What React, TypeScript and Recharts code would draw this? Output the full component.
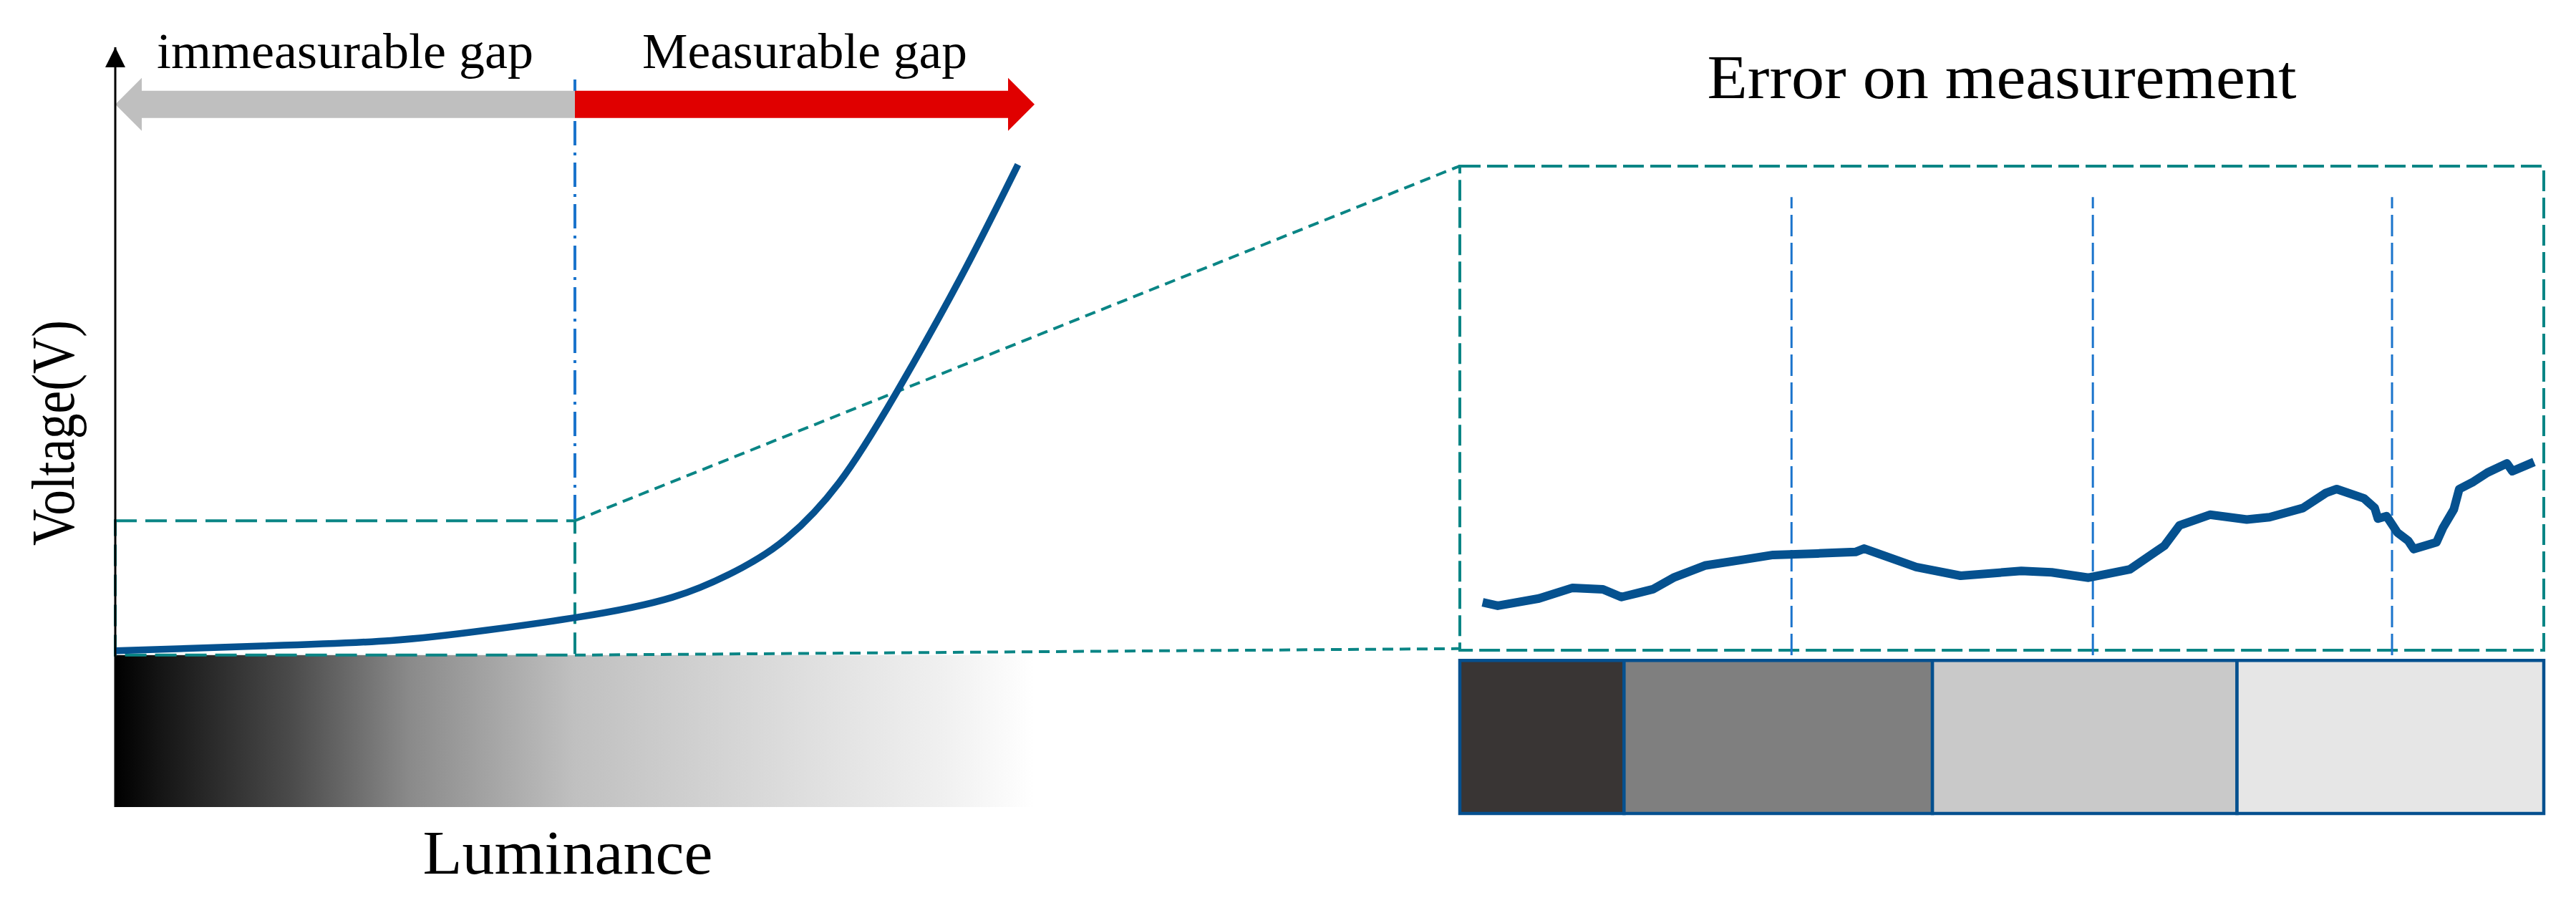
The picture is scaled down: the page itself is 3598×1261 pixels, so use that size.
import React from 'react';
import { ComposedChart, Line, XAxis, YAxis, ReferenceArea, ReferenceLine, ReferenceDot } from 'recharts';

const W = 3582;
const H = 1245;
const SERIF = '"Liberation Serif", "Times New Roman", serif';
const TEAL = '#0a8585';
const BLUE_DASH = '#1b74cc';
const CURVE = '#05518f';
const BORDER = '#05508f';

// ---------- Left panel: voltage vs luminance ----------
const lumPos = [0, 16.1, 30, 40.4, 50.2, 60.6, 68.2, 73.1, 78.7, 84.9, 92.0, 98.2];
const voltVal = [0.7, 1.5, 2.4, 4.1, 6.2, 9.5, 14.4, 19.3, 28.3, 43.0, 62.2, 80.7];
const lumDomain = [0, 100];
const voltDomain = [-25, 100];
const splitLum = 50;
const zoomTopVolt = 22.1;
const arrowVolt = 90.6;
const splitLineTopVolt = 94.7;
const connectLum = 146.26;
const connectTopVolt = 80.47;
const connectBottomVolt = 1.06;
const gapLabels = ['immeasurable gap', 'Measurable gap'];

// ---------- Right panel: error on measurement ----------
const errPos = [2.1, 3.5, 7.3, 10.4, 13.2, 14.9, 17.8, 19.8, 22.6, 26.1, 28.9, 33.0, 36.5, 37.3, 42.1, 46.2, 51.8, 54.6, 58.0, 61.8, 65.0, 66.4, 69.2, 72.6, 74.7, 77.8, 79.9, 80.9, 83.4, 84.4, 84.7, 85.5, 86.5, 87.5, 88.0, 90.1, 90.7, 91.7, 92.2, 93.5, 94.8, 96.6, 97.1, 99.1];
const errVal = [9.9, 9.2, 10.7, 12.9, 12.6, 11.0, 12.6, 15.1, 17.5, 18.7, 19.7, 20.0, 20.3, 21.0, 17.2, 15.4, 16.4, 16.1, 15.0, 16.7, 21.6, 25.8, 28.0, 27.0, 27.5, 29.4, 32.5, 33.3, 31.4, 29.4, 27.2, 27.7, 24.3, 22.6, 20.9, 22.3, 25.3, 29.1, 33.3, 34.8, 36.7, 38.6, 37.0, 38.9];
const errDomain = [-34, 100];
const blockEdges = [0, 15.15, 43.6, 71.7, 100];
const blockFills = ['#393534', '#7f7f7f', '#c9c9c9', '#e6e6e6'];
const blockTop = -2.1;
const blockBottom = -33.7;
const markerPos = [30.6, 58.4, 86.0];
const markerTop = 93.6;
const markerBottom = -1;

const leftData = lumPos.map((l, i) => ({ lum: l, volt: voltVal[i] }));
const rightData = errPos.map((p, i) => ({ pos: p, err: errVal[i] }));

const makeArrow = (color: string, text: string, textLen: number, fs: number) => (props: any) => {
  const { x1, y1, x2 } = props;
  const dir = x2 > x1 ? 1 : -1;
  const hb = x2 - dir * 37;
  const pts = [
    [x1, y1 - 19], [hb, y1 - 19], [hb, y1 - 37], [x2, y1], [hb, y1 + 37], [hb, y1 + 19], [x1, y1 + 19],
  ];
  return (
    <g>
      <polygon points={pts.map((p) => p.join(',')).join(' ')} fill={color} />
      <text x={(x1 + x2) / 2} y={y1 - 51} textAnchor="middle" fontFamily={SERIF} fontSize={fs}
        textLength={textLen} lengthAdjust="spacingAndGlyphs" fill="#000">{text}</text>
    </g>
  );
};

const GradientShape = (props: any) => {
  const { x, y, width, height } = props;
  return (
    <g>
      <defs>
        <linearGradient id="lumGrad" x1="0" y1="0" x2="1" y2="0">
          <stop offset="0" stopColor="#000000" />
          <stop offset="0.05" stopColor="#151515" />
          <stop offset="0.19" stopColor="#4a4a4a" />
          <stop offset="0.32" stopColor="#8a8a8a" />
          <stop offset="0.5" stopColor="#c0c0c0" />
          <stop offset="0.73" stopColor="#dcdcdc" />
          <stop offset="0.9" stopColor="#f0f0f0" />
          <stop offset="1" stopColor="#ffffff" />
        </linearGradient>
      </defs>
      <rect x={x} y={y} width={width} height={height} fill="url(#lumGrad)" />
    </g>
  );
};

const ArrowHead = (props: any) => {
  const { cx, cy } = props;
  return <polygon points={`${cx},${cy} ${cx - 14},${cy + 28} ${cx + 14},${cy + 28}`} fill="#000" />;
};

const VoltLabel = (props: any) => {
  const vb = props.viewBox || { x: 33, y: 58, width: 120, height: 1061 };
  const x = vb.x + 62;
  const y = vb.y + vb.height / 2 + 8;
  return (
    <text x={x} y={y} transform={`rotate(-90 ${x} ${y})`} textAnchor="middle" fontFamily={SERIF}
      fontSize={84} textLength={315} lengthAdjust="spacingAndGlyphs" fill="#000">Voltage(V)</text>
  );
};

const LumLabel = (props: any) => {
  const vb = props.viewBox || { x: 153, y: 1119, width: 1284, height: 110 };
  return (
    <text x={vb.x + vb.width / 2 - 10} y={vb.y + 93} textAnchor="middle" fontFamily={SERIF}
      fontSize={86} textLength={405} lengthAdjust="spacingAndGlyphs" fill="#000">Luminance</text>
  );
};

const TitleLabel = (props: any) => {
  const vb = props.viewBox || { x: 2031, y: 74, width: 1514, height: 150 };
  return (
    <text x={vb.x + vb.width / 2} y={vb.y + 55} textAnchor="middle" fontFamily={SERIF}
      fontSize={86} textLength={823} lengthAdjust="spacingAndGlyphs" fill="#000">Error on measurement</text>
  );
};

export default function App() {
  return (
    <div style={{ position: 'relative', width: W, height: H, background: '#fff' }}>
      <div style={{ position: 'absolute', left: 0, top: 0 }}>
        <ComposedChart width={W} height={H} data={leftData}
          margin={{ left: 33, right: W - 1437, top: 58, bottom: 16 }}>
          <XAxis type="number" dataKey="lum" domain={lumDomain} allowDataOverflow height={110}
            tick={false} tickLine={false} axisLine={false} label={{ content: LumLabel }} />
          <YAxis type="number" domain={voltDomain} allowDataOverflow width={120} tick={false}
            tickLine={false} axisLine={{ stroke: '#000', strokeWidth: 3 }} label={{ content: VoltLabel }} />
          <ReferenceArea x1={lumDomain[0]} x2={lumDomain[1]} y1={voltDomain[0]} y2={0} shape={GradientShape} />
          <ReferenceLine segment={[{ x: splitLum, y: splitLineTopVolt }, { x: splitLum, y: zoomTopVolt }]}
            stroke={BLUE_DASH} strokeWidth={4} strokeDasharray="34 10 4 10" />
          <ReferenceArea x1={0} x2={splitLum} y1={0} y2={zoomTopVolt} fill="none" fillOpacity={0}
            stroke={TEAL} strokeWidth={4} strokeDasharray="30 12" />
          <ReferenceLine ifOverflow="visible" segment={[{ x: splitLum, y: zoomTopVolt }, { x: connectLum, y: connectTopVolt }]}
            stroke={TEAL} strokeWidth={4} strokeDasharray="15 9" />
          <ReferenceLine ifOverflow="visible" segment={[{ x: splitLum, y: 0 }, { x: connectLum, y: connectBottomVolt }]}
            stroke={TEAL} strokeWidth={4} strokeDasharray="15 9" />
          <Line type="natural" dataKey="volt" stroke={CURVE} strokeWidth={9.5} dot={false} activeDot={false}
            isAnimationActive={false} />
          <ReferenceLine segment={[{ x: splitLum, y: arrowVolt }, { x: 0, y: arrowVolt }]}
            shape={makeArrow('#bfbfbf', gapLabels[0], 526, 70)} />
          <ReferenceLine segment={[{ x: splitLum, y: arrowVolt }, { x: 100, y: arrowVolt }]}
            shape={makeArrow('#e00000', gapLabels[1], 454, 70)} />
          <ReferenceDot x={0} y={100} shape={ArrowHead} />
        </ComposedChart>
      </div>
      <div style={{ position: 'absolute', left: 0, top: 0 }}>
        <ComposedChart width={W} height={H} data={rightData}
          margin={{ left: 2031, right: W - 3545, top: 74, bottom: 115 }}>
          <XAxis type="number" dataKey="pos" domain={[0, 100]} allowDataOverflow orientation="top" height={150}
            tick={false} tickLine={false} axisLine={false} label={{ content: TitleLabel }} />
          <YAxis type="number" domain={errDomain} allowDataOverflow hide />
          {blockFills.map((f, i) => (
            <ReferenceArea key={i} x1={blockEdges[i]} x2={blockEdges[i + 1]} y1={blockBottom} y2={blockTop}
              fill={f} fillOpacity={1} stroke={BORDER} strokeWidth={4.5} />
          ))}
          <ReferenceArea x1={0} x2={100} y1={0} y2={100} fill="none" fillOpacity={0}
            stroke={TEAL} strokeWidth={4} strokeDasharray="29 9" />
          {markerPos.map((m, i) => (
            <ReferenceLine key={i} segment={[{ x: m, y: markerBottom }, { x: m, y: markerTop }]}
              stroke={BLUE_DASH} strokeWidth={3} strokeDasharray="30 9" />
          ))}
          <Line type="linear" dataKey="err" stroke={CURVE} strokeWidth={12} strokeLinejoin="round"
            dot={false} activeDot={false} isAnimationActive={false} />
        </ComposedChart>
      </div>
    </div>
  );
}
